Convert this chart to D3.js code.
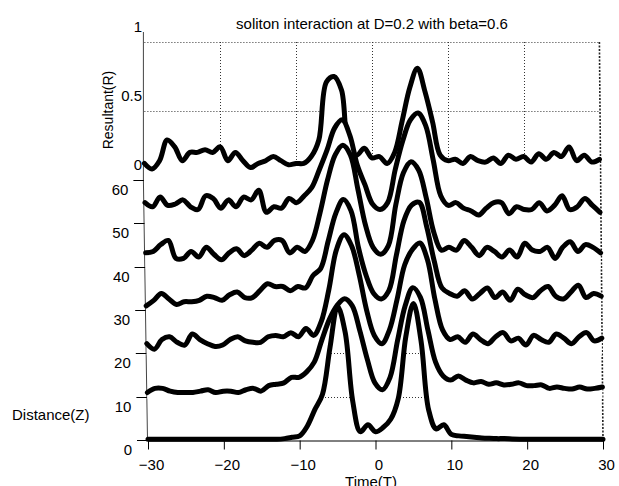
<!DOCTYPE html>
<html><head><meta charset="utf-8">
<script src="https://cdn.jsdelivr.net/npm/d3@7"></script>
<style>
body{margin:0;background:#fff}
svg{display:block}
text{font-family:"Liberation Sans",Arial,Helvetica,sans-serif;font-size:15px;fill:#000}
</style>
</head><body>
<svg id="chart" width="619" height="486"></svg>
<script>
// ---------- data ----------
const timeT = d3.range(-30, 31, 1);
const distances = [0, 10, 20, 30, 40, 50, 60];
const R_Z0 = [0.005,0.005,0.005,0.005,0.005,0.005,0.005,0.005,0.005,0.005,0.005,0.005,0.005,0.005,0.005,0.005,0.005,0.005,0.01,0.02,0.03,0.10,0.22,
  0.33,0.67,0.97,0.78,0.28,0.06,0.11,0.06,0.09,0.15,0.30,0.75,0.99,0.72,0.22,0.08,0.11,0.04,
  0.03,0.025,0.02,0.015,0.012,0.01,0.01,0.008,0.006,0.005,0.005,0.005,0.005,0.005,0.005,0.005,0.005,0.005,0.005,0.005];
const R_Z10 = [0.03,0.06,0.06,0.04,0.03,0.03,0.03,0.04,0.05,0.03,0.04,0.04,0.03,0.05,0.06,0.04,0.08,0.09,0.10,0.14,0.14,0.18,0.25,
  0.41,0.56,0.66,0.71,0.66,0.48,0.27,0.10,0.05,0.14,0.41,0.66,0.79,0.72,0.48,0.25,0.15,0.12,
  0.15,0.12,0.10,0.11,0.09,0.10,0.085,0.09,0.10,0.08,0.08,0.085,0.06,0.07,0.06,0.055,0.07,0.055,0.06,0.07];
const R_Z20 = [0.07,0.03,0.10,0.12,0.08,0.06,0.14,0.10,0.07,0.05,0.06,0.10,0.12,0.09,0.08,0.08,0.12,0.13,0.12,0.15,0.12,0.18,0.13,
  0.23,0.46,0.75,0.86,0.78,0.57,0.31,0.13,0.07,0.17,0.39,0.64,0.75,0.80,0.68,0.39,0.17,0.10,
  0.12,0.08,0.14,0.10,0.07,0.12,0.15,0.09,0.11,0.06,0.13,0.10,0.08,0.14,0.11,0.07,0.12,0.15,0.09,0.11];
const R_Z30 = [0.03,0.07,0.12,0.08,0.04,0.06,0.06,0.07,0.10,0.09,0.07,0.11,0.13,0.09,0.09,0.14,0.19,0.17,0.17,0.14,0.17,0.16,0.25,
  0.30,0.50,0.70,0.80,0.72,0.45,0.25,0.12,0.08,0.14,0.40,0.65,0.76,0.78,0.60,0.35,0.16,0.12,
  0.10,0.14,0.08,0.12,0.16,0.09,0.13,0.07,0.15,0.11,0.09,0.14,0.17,0.10,0.08,0.13,0.18,0.09,0.12,0.10];
const R_Z40 = [0.10,0.11,0.16,0.19,0.06,0.06,0.11,0.07,0.14,0.09,0.05,0.10,0.13,0.08,0.12,0.17,0.14,0.19,0.19,0.10,0.14,0.11,0.19,
  0.39,0.63,0.81,0.88,0.81,0.56,0.30,0.14,0.09,0.15,0.45,0.68,0.76,0.70,0.50,0.25,0.12,0.14,
  0.12,0.19,0.14,0.08,0.14,0.11,0.07,0.12,0.07,0.17,0.12,0.11,0.14,0.06,0.14,0.18,0.11,0.16,0.14,0.10];
const R_Z50 = [0.15,0.12,0.19,0.13,0.14,0.17,0.12,0.10,0.20,0.18,0.11,0.17,0.12,0.19,0.17,0.24,0.08,0.12,0.11,0.18,0.15,0.20,0.26,
  0.39,0.53,0.69,0.75,0.64,0.42,0.28,0.14,0.10,0.15,0.39,0.60,0.75,0.80,0.71,0.46,0.20,0.13,
  0.15,0.11,0.09,0.06,0.11,0.15,0.15,0.07,0.12,0.10,0.10,0.15,0.09,0.13,0.20,0.10,0.12,0.18,0.13,0.08];
const R_Z60 = [0.12,0.08,0.14,0.29,0.24,0.14,0.20,0.20,0.22,0.20,0.24,0.14,0.20,0.14,0.09,0.12,0.14,0.17,0.14,0.11,0.12,0.12,0.17,
  0.29,0.71,0.75,0.65,0.22,0.18,0.23,0.16,0.17,0.12,0.20,0.43,0.67,0.81,0.64,0.42,0.18,0.14,
  0.15,0.12,0.17,0.14,0.13,0.16,0.12,0.18,0.15,0.17,0.13,0.19,0.15,0.20,0.17,0.24,0.14,0.18,0.13,0.15];
const seriesR = [R_Z0, R_Z10, R_Z20, R_Z30, R_Z40, R_Z50, R_Z60];
const timeTicks = [-30, -20, -10, 0, 10, 20, 30];
const distanceTicks = [0, 10, 20, 30, 40, 50, 60];
const resultantTicks = [0, 0.5, 1];
const backGridT = [-20, -10, 0, 10, 20];
const floorGridZ = [10, 20, 30];
const titleText = "soliton interaction at D=0.2 with beta=0.6";
const xLabel = "Time(T)", zLabel = "Distance(Z)", rLabel = "Resultant(R)";

// ---------- projection (oblique 3-D view) ----------
const xT = d3.scaleLinear().domain([-30, 30]).range([148, 603]);      // time at Z=0
const shiftZ = d3.scaleLinear().domain([0, 60]).range([0, -3.6]);      // small depth skew
const baseY = d3.scaleLinear().domain([0, 60]).range([440, 180]);      // distance -> screen
const liftR = d3.scaleLinear().domain([0, 1]).range([0, 138]);         // resultant -> lift
const px = (t, z) => xT(t) + shiftZ(z);
const py = (r, z) => baseY(z) - liftR(r);

const svg = d3.select("#chart");
const dotted = "1,2";

// back wall grid (Z = 60 plane)
const back = svg.append("g").attr("stroke", "#333").attr("stroke-width", 1).attr("stroke-dasharray", dotted).attr("fill", "none");
back.selectAll("line.h").data([0.5, 1]).join("line")
  .attr("x1", px(-30, 60)).attr("x2", px(30, 60))
  .attr("y1", d => py(d, 60) + 0.5).attr("y2", d => py(d, 60) + 0.5);
back.selectAll("line.v").data(backGridT).join("line")
  .attr("x1", d => Math.round(px(d, 60)) + 0.5).attr("x2", d => Math.round(px(d, 60)) + 0.5)
  .attr("y1", py(1, 60)).attr("y2", baseY(60));

// right side wall seen edge-on
svg.append("line").attr("x1", px(30, 60)).attr("y1", py(1, 60)).attr("x2", px(30, 0)).attr("y2", baseY(0))
  .attr("stroke", "#222").attr("stroke-width", 1.6).attr("stroke-dasharray", "2,1.5");

// left axis line (R + Z)
svg.append("path").attr("d", d3.line()([[px(-30, 60) - 1, 32], [px(-30, 60) - 1, baseY(60)], [px(-30, 0) - 0.5, baseY(0)]]))
  .attr("stroke", "#444").attr("stroke-width", 1).attr("fill", "none");

// curves, back to front
const curves = svg.append("g");
const order = d3.range(seriesR.length).reverse();
order.forEach(i => {
  const z = distances[i];
  const pts = timeT.map((t, k) => ({t, r: seriesR[i][k]}));
  const area = d3.area().x(d => px(d.t, z)).y0(baseY(z) + 2).y1(d => py(d.r, z)).curve(d3.curveCatmullRom.alpha(0.5));
  const line = d3.line().x(d => px(d.t, z)).y(d => py(d.r, z)).curve(d3.curveCatmullRom.alpha(0.5));
  curves.append("path").attr("d", area(pts)).attr("fill", "#fff").attr("stroke", "none");
  if (z === 0) {
    svg.append("clipPath").attr("id", "frontClip").append("path").attr("d", area(pts));
    curves.append("g").attr("clip-path", "url(#frontClip)")
      .selectAll("line").data(floorGridZ).join("line")
      .attr("x1", px(-30, 0)).attr("x2", px(30, 0))
      .attr("y1", d => Math.round(baseY(d)) + 0.5).attr("y2", d => Math.round(baseY(d)) + 0.5)
      .attr("stroke", "#333").attr("stroke-dasharray", dotted);
  }
  curves.append("path").attr("d", line(pts)).attr("fill", "none").attr("stroke", "#000")
    .attr("stroke-width", 5).attr("stroke-linejoin", "round").attr("stroke-linecap", "round");
});

// time axis
const xAxis = d3.axisBottom(xT).tickValues(timeTicks).tickSize(9).tickSizeOuter(0).tickPadding(10).tickFormat(d3.format("d"));
const gx = svg.append("g").attr("transform", "translate(0,440.5)").call(xAxis);
gx.select(".domain").attr("stroke", "#000");
gx.selectAll(".tick line").attr("stroke", "#000");
gx.selectAll("text").attr("font-size", 15).attr("font-family", null).attr("dx", 3).style("fill", "#000");

// distance ticks + labels
const zt = svg.append("g");
zt.selectAll("line").data(distanceTicks).join("line")
  .attr("x1", d => px(-30, d) - 11).attr("x2", d => px(-30, d) - 0.5)
  .attr("y1", d => Math.round(baseY(d)) + 0.5).attr("y2", d => Math.round(baseY(d)) + 0.5)
  .attr("stroke", "#000");
zt.selectAll("text").data(distanceTicks).join("text")
  .attr("x", d => px(-30, d) - 16).attr("y", d => baseY(d) + 15)
  .attr("text-anchor", "end").text(d => d);

// resultant labels
svg.append("g").selectAll("text").data(resultantTicks).join("text")
  .attr("x", 142).attr("y", d => py(d, 60) - 10).attr("text-anchor", "end").text(d => d);

// titles
svg.append("text").attr("x", 372).attr("y", 29).attr("text-anchor", "middle").text(titleText);
svg.append("text").attr("x", 371).attr("y", 487).attr("text-anchor", "middle").text(xLabel);
svg.append("text").attr("x", 12).attr("y", 420).text(zLabel);
svg.append("text").attr("transform", "translate(113,110) rotate(-90)").attr("text-anchor", "middle")
  .style("font-size", "14px").text(rLabel);
</script>
</body></html>
